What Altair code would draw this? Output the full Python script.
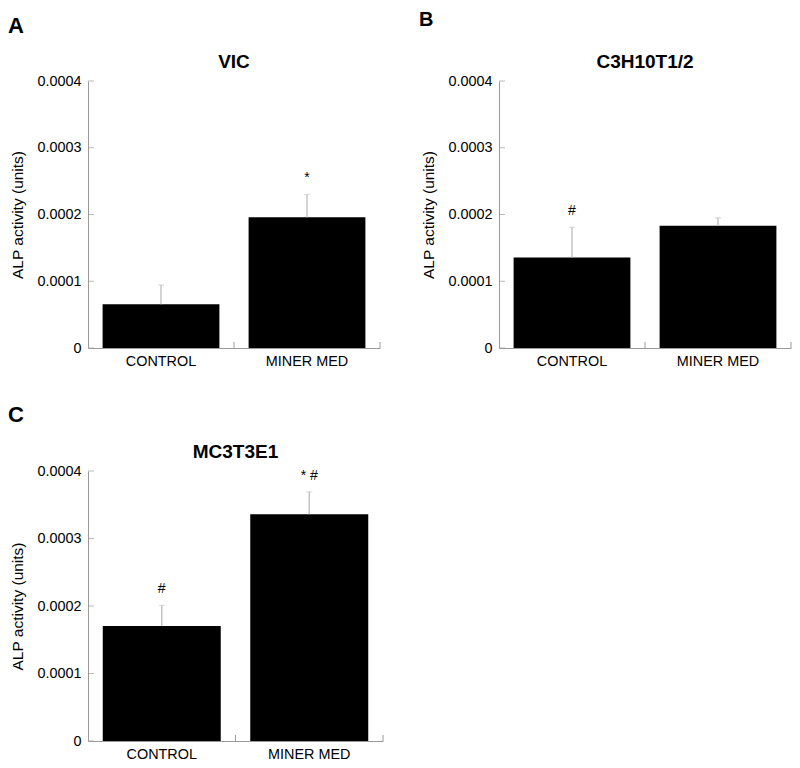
import altair as alt
import pandas as pd

# ---- data ----
categories = ["CONTROL", "MINER MED"]
panel_letters = ["A", "B", "C"]
panel_titles = ["VIC", "C3H10T1/2", "MC3T3E1"]

vic_mean = [0.0000654, 0.000196]
vic_upper = [0.0000944, 0.000230]
vic_marks = ["", "*"]

c3h_mean = [0.0001356, 0.000183]
c3h_upper = [0.000181, 0.000195]
c3h_marks = ["#", ""]

mc3_mean = [0.0001704, 0.000336]
mc3_upper = [0.000201, 0.000369]
mc3_marks = ["#", "* #"]

y_ticks = [0, 0.0001, 0.0002, 0.0003, 0.0004]

FONT = "Liberation Sans"
AXIS_GRAY = "#9a9a9a"
ERR_GRAY = "#c4c4c4"
Y_TITLE = "ALP activity (units)"


def yaxis():
    return alt.Axis(values=y_ticks, format=".4~f", title=Y_TITLE,
                    ticks=False, labelPadding=7,
                    labelFontSize=14.4, labelColor="#000000",
                    labelFont=FONT, titleFont=FONT,
                    titleFontSize=15.5, titleFontWeight="normal",
                    titleColor="#000000", titlePadding=11,
                    domainColor=AXIS_GRAY, grid=False)


def xaxis():
    return alt.Axis(title=None, ticks=False, labelAngle=0,
                    labelPadding=6, labelFontSize=14.4,
                    labelColor="#000000", labelFont=FONT,
                    domainColor=AXIS_GRAY, grid=False)


def panel(letter, title, means, uppers, marks, W, H, letter_y, letter_size):
    df = pd.DataFrame({"category": categories, "mean": means,
                       "upper": uppers, "mark": marks})
    base = alt.Chart(df)
    yscale = alt.Scale(domain=[0, 0.0004], nice=False, zero=True)

    def X():
        return alt.X("category:N", sort=categories,
                     scale=alt.Scale(paddingInner=0.2, paddingOuter=0.1),
                     axis=xaxis())

    def Y(field):
        return alt.Y(field, scale=yscale, axis=yaxis(), title=Y_TITLE)

    bars = base.mark_bar(color="#000000").encode(x=X(), y=Y("mean:Q"))
    err = base.mark_rule(color=ERR_GRAY, strokeWidth=1.5).encode(
        x=X(), y=Y("mean:Q"), y2="upper:Q")
    cap = base.mark_tick(color=ERR_GRAY, size=6, thickness=1,
                         orient="horizontal").encode(x=X(), y=Y("upper:Q"))
    ann = base.mark_text(fontSize=14, font=FONT, color="#000000",
                         baseline="alphabetic", dy=-12).encode(
        x=X(), y=Y("upper:Q"), text="mark:N")
    yt = alt.Chart(pd.DataFrame({"v": y_ticks})).mark_tick(
        color=AXIS_GRAY, size=6, thickness=1, orient="horizontal").encode(
        x=alt.value(3), y=Y("v:Q"))
    xt_mid = alt.Chart(alt.Data(values=[{"k": 1}])).mark_rule(
        color=AXIS_GRAY, strokeWidth=1).encode(
        x=alt.value(W / 2), y=alt.value(H), y2=alt.value(H - 6))
    xt_end = alt.Chart(alt.Data(values=[{"k": 1}])).mark_rule(
        color=AXIS_GRAY, strokeWidth=1).encode(
        x=alt.value(W), y=alt.value(H), y2=alt.value(H - 6))
    ttl = alt.Chart(alt.Data(values=[{"t": title}])).mark_text(
        fontSize=19, fontWeight="bold", font=FONT, color="#000000",
        align="center", baseline="alphabetic").encode(
        x=alt.value(W / 2), y=alt.value(-13.5), text="t:N")
    let = alt.Chart(alt.Data(values=[{"t": letter}])).mark_text(
        fontSize=letter_size, fontWeight="bold", font=FONT, color="#000000",
        align="left", baseline="alphabetic").encode(
        x=alt.value(-80), y=alt.value(letter_y), text="t:N")

    return alt.layer(bars, err, cap, ann, yt, xt_mid, xt_end, ttl, let).properties(
        width=W, height=H)


pA = panel(panel_letters[0], panel_titles[0], vic_mean, vic_upper, vic_marks,
           292, 267, -47.7, 22)
pB = panel(panel_letters[1], panel_titles[1], c3h_mean, c3h_upper, c3h_marks,
           292, 267, -55, 20)
pC = panel(panel_letters[2], panel_titles[2], mc3_mean, mc3_upper, mc3_marks,
           295, 270, -49.3, 22)

top = alt.hconcat(pA, pB, spacing=38)
chart = alt.vconcat(top, pC, spacing=35).properties(
    padding={"left": 0, "top": 2, "right": 0, "bottom": 0}
).configure(background="#ffffff").configure_view(strokeWidth=0, stroke="transparent")

chart.save("out.html", embed_options={"renderer": "svg", "actions": False})
